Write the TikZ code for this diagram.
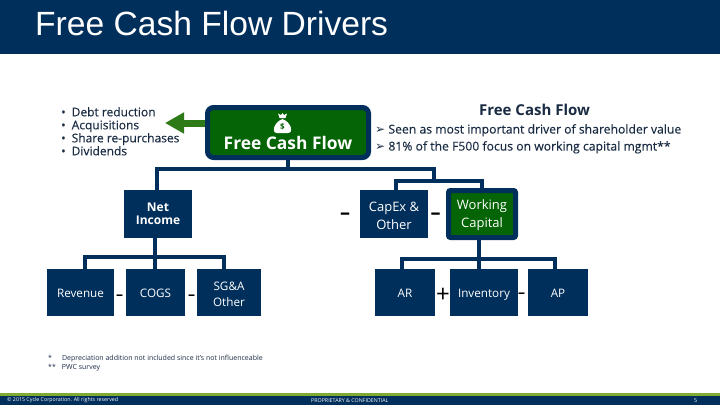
\documentclass[tikz,border=0pt]{standalone}
\usepackage{fontspec}
\setmainfont{Open Sans}
\newfontfamily\titlefont{Liberation Sans}
\newfontfamily\markfont{DejaVu Sans}
\newfontfamily\midfont[FakeBold=0.25]{Open Sans}
\usetikzlibrary{arrows.meta}
\definecolor{navy}{HTML}{002F5C}
\definecolor{bargreen}{HTML}{7FAB32}
\definecolor{boxgreen}{HTML}{056405}
\definecolor{arrowgreen}{HTML}{2F7A18}
\definecolor{inktext}{HTML}{1A2C44}
\tikzset{
  bluebox/.style={fill=navy,text=white,font=\fontsize{13}{18}\selectfont,align=center,inner sep=0pt},
  lowbox/.style={bluebox,font=\fontsize{11.7}{16}\selectfont},
  onebox/.style={lowbox,text height=12pt,text depth=3pt},
  greenbox/.style={fill=boxgreen,draw=navy,line width=5pt,text=white,align=center,inner sep=0pt},
  link/.style={draw=navy,line width=4pt},
  lowlink/.style={draw=navy,line width=3.5pt},
  sign/.style={font=\fontsize{14}{14}\selectfont\bfseries,inner sep=0pt},
  bigsign/.style={sign,font=\fontsize{20}{20}\selectfont\bfseries},
  bullets/.style={align=left,anchor=north west,inner sep=0pt,text=inktext},
  footer/.style={anchor=west,inner sep=0pt,text=white,font=\fontsize{5.3}{5.3}\selectfont},
}
\newcommand{\boxat}[6]{\node[#1,minimum width=#4 pt,minimum height=#5 pt] (#2) at (#3) {#6};}
\newcommand{\whymark}{{\markfont\fontsize{12}{17}\selectfont ➢}}
\begin{document}
\begin{tikzpicture}[x=1pt,y=-1pt]
    \useasboundingbox (0,0) rectangle (720,405);
    % bars
    \fill[navy] (0,0) rectangle (720,54);
    \fill[bargreen] (0,393) rectangle (720,396);
    \fill[navy] (0,396) rectangle (720,405);
    \node[anchor=west,inner sep=0pt,text=white,font=\titlefont\fontsize{33.6}{34}\selectfont] (title) at (35,23) {Free Cash Flow Drivers};
    % boxes
    \boxat{greenbox,rounded corners=6pt,font=\fontsize{17.4}{20}\selectfont\bfseries,text depth=0pt}{fcf}{288,132.5}{161}{50}{\rule{0pt}{14pt}\\Free Cash Flow}
    \boxat{bluebox,font=\fontsize{12}{13}\selectfont\bfseries}{net}{158,214}{68}{48}{Net\\Income}
    \boxat{bluebox}{capex}{394,214}{68}{48}{\rule{0pt}{13pt}CapEx \&\\Other}
    \boxat{greenbox,rounded corners=2pt,font=\fontsize{13}{18}\selectfont}{wc}{482,214}{67}{47}{\rule{0pt}{12pt}Working\\Capital}
    \boxat{onebox}{rev}{80.5,292.5}{67}{47}{Revenue}
    \boxat{onebox}{cogs}{155.5,292.5}{59}{47}{COGS}
    \boxat{lowbox}{sga}{229,292.5}{64}{47}{\rule{0pt}{13pt}SG\&A\\Other}
    \boxat{onebox}{ar}{405,292.5}{60}{47}{AR}
    \boxat{onebox}{inv}{484,292.5}{68}{47}{Inventory}
    \boxat{onebox}{ap}{558,292.5}{60}{47}{AP}
    % money bag
    \fill[white] (282.5,119) .. controls (291,122) and (294,133) .. (288,133) -- (277,133) .. controls (271,133) and (274,122) .. (282.5,119) -- cycle;
    \fill[white] (278,113.5) -- (281,115) -- (282.5,113) -- (284,115) -- (287,113.5) -- (285.5,118) -- (279.5,118) -- cycle;
    \node[inner sep=0pt,text=boxgreen,font=\fontsize{8}{8}\selectfont\bfseries] (dollar) at (282.5,127) {\$};
    % connectors
    \coordinate (top) at (288,169);
    \coordinate (topl) at (157,169);
    \coordinate (rt) at (434,181);
    \coordinate (rtl) at (396,181);
    \coordinate (rtr) at (482,181);
    \coordinate (lo1) at (155,257);
    \coordinate (lo1l) at (85,257);
    \coordinate (lo1r) at (224,257);
    \coordinate (lo2) at (479,259);
    \coordinate (lo2l) at (402,259);
    \coordinate (lo2r) at (555,259);
    \draw[link] (fcf.south) -- (top);
    \draw[link] (topl|-net.north) -- (topl) -| (rt);
    \draw[link] (rtl|-capex.north) -- (rtl) -- (rtr) -- (rtr|-wc.north);
    \draw[lowlink] (lo1|-net.south) -- (lo1|-cogs.north);
    \draw[lowlink] (lo1l|-rev.north) -- (lo1l) -- (lo1r) -- (lo1r|-sga.north);
    \draw[lowlink] (lo2|-wc.south) -- (lo2|-inv.north);
    \draw[lowlink] (lo2l|-ar.north) -- (lo2l) -- (lo2r) -- (lo2r|-ap.north);
    % arrow
    \coordinate (tip) at (165,123);
    \draw[arrowgreen,line width=7pt,-{Triangle[length=19pt,width=20pt]}] (fcf.west|-tip) -- (tip);
    % signs
    \node[sign] (m1) at (119.5,297) {–};
    \node[sign] (m2) at (191.5,297) {–};
    \node[bigsign] (m3) at (345,216) {–};
    \node[bigsign] (m4) at (435.5,216) {–};
    \node[sign] (m5) at (521.5,295) {–};
    \node[sign,font=\fontsize{24}{24}\selectfont] (p1) at (443,295) {+};
    % text
    \node[bullets,font=\midfont\fontsize{12}{13}\selectfont] (uses) at (61,107) {\textbullet\hspace{6pt}Debt reduction\\\textbullet\hspace{6pt}Acquisitions\\\textbullet\hspace{6pt}Share re-purchases\\\textbullet\hspace{6pt}Dividends};
    \node[text=inktext,inner sep=0pt,font=\fontsize{15}{15}\selectfont\bfseries] (head) at (534.5,110) {Free Cash Flow};
    \node[bullets,font=\midfont\fontsize{12.2}{17}\selectfont] (why) at (375,124) {\whymark\ Seen as most important driver of shareholder value\\\whymark\ 81\% of the F500 focus on working capital mgmt**};
    \node[bullets,font=\fontsize{7}{8.5}\selectfont] (notes) at (48,355) {*\hspace{10pt}Depreciation addition not included since it's not influenceable\\**\hspace{6pt}PWC survey};
    \node[footer] (copy) at (7,400.5) {© 2015 Cycle Corporation. All rights reserved};
    \node[footer] (prop) at (311,400.5) {PROPRIETARY \& CONFIDENTIAL};
    \node[footer] (page) at (694,400.5) {5};
\end{tikzpicture}
\end{document}
